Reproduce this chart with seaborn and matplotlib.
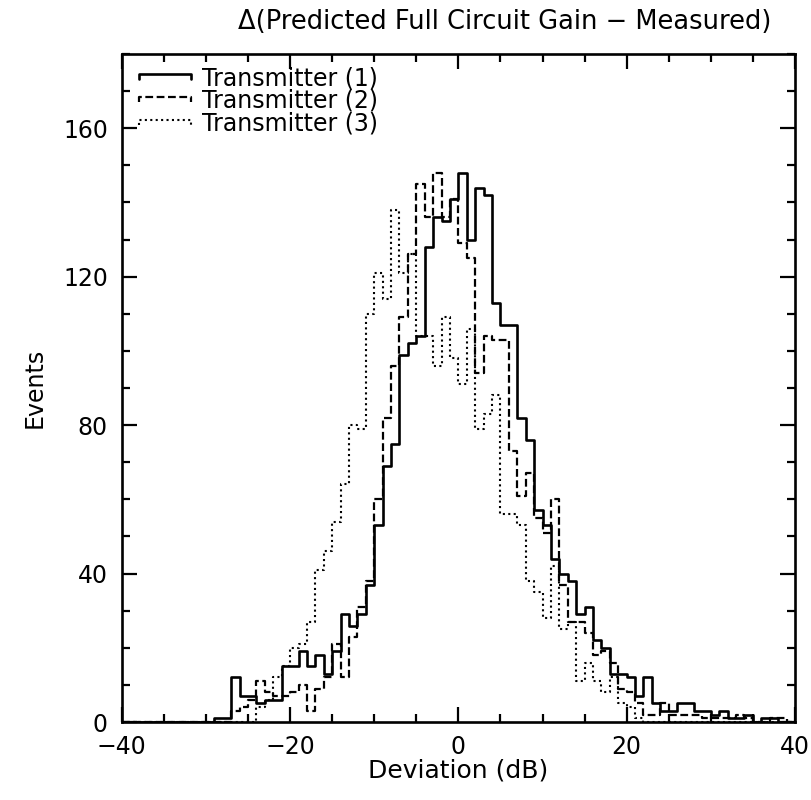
import numpy as np
import pandas as pd
import matplotlib
matplotlib.use("Agg")
import matplotlib.pyplot as plt
import seaborn as sns
from matplotlib.ticker import MultipleLocator
from matplotlib.lines import Line2D
from matplotlib.legend_handler import HandlerBase

# Bin lower edges (1 dB bins)
edges = list(range(-30, 40))

# Events per bin
tx1 = [0, 1, 1, 12, 7, 7, 5, 6, 6, 15, 15, 19, 15, 18, 13, 19, 29, 26, 29, 37,
       53, 69, 75, 99, 102, 104, 128, 136, 135, 141, 148, 130, 144, 142, 113, 107, 107, 82, 76, 57,
       53, 44, 40, 38, 29, 31, 22, 20, 13, 13, 12, 7, 12, 5, 3, 3, 5, 5, 3, 3,
       2, 3, 1, 1, 2, 0, 1, 1, 0, 0]
tx2 = [0, 0, 0, 3, 4, 6, 11, 8, 7, 7, 8, 10, 3, 9, 12, 21, 12, 23, 31, 38,
       60, 82, 96, 109, 126, 145, 136, 148, 136, 141, 129, 125, 94, 104, 103, 103, 73, 61, 67, 55,
       51, 60, 37, 27, 27, 24, 18, 19, 16, 9, 8, 5, 2, 2, 5, 2, 2, 2, 2, 1,
       1, 1, 1, 2, 1, 0, 0, 1, 1, 0]
tx3 = [0, 0, 0, 0, 0, 0, 4, 6, 12, 15, 20, 21, 27, 41, 46, 54, 64, 80, 79, 110,
       121, 114, 138, 121, 126, 104, 104, 96, 109, 98, 91, 106, 79, 83, 88, 56, 56, 53, 38, 35,
       28, 42, 25, 27, 11, 16, 11, 8, 12, 5, 4, 1, 0, 0, 0, 0, 0, 0, 0, 0,
       0, 0, 0, 0, 0, 0, 0, 0, 0, 0]
labels = ["Transmitter (1)", "Transmitter (2)", "Transmitter (3)"]

centers = np.array(edges) + 0.5
df = pd.concat([
    pd.DataFrame({"dev": centers, "n": tx1, "tx": labels[0]}),
    pd.DataFrame({"dev": centers, "n": tx2, "tx": labels[1]}),
    pd.DataFrame({"dev": centers, "n": tx3, "tx": labels[2]}),
])

sns.set_style("ticks")
plt.rcParams['font.family'] = ['DejaVu Sans']
for k in ["text.color", "axes.labelcolor", "xtick.color", "ytick.color", "axes.edgecolor"]:
    plt.rcParams[k] = "black"

styles = {labels[0]: "-", labels[1]: (0, (3.5, 1.6)), labels[2]: (0, (1, 1.6))}
widths = {labels[0]: 1.9, labels[1]: 1.6, labels[2]: 1.5}


class StepHandler(HandlerBase):
    # legend key drawn like a little histogram step (bracket)
    def create_artists(self, legend, orig_handle, xdescent, ydescent,
                       width, height, fontsize, trans):
        lab = orig_handle.get_label()
        x0, x1 = -xdescent, -xdescent + width
        ym = (height - ydescent) / 2.0 + 2
        drop = 0.3 * height
        ln = Line2D([x0, x0, x1, x1], [ym - drop, ym, ym, ym - drop],
                    color="black", lw=widths[lab], linestyle=styles[lab],
                    transform=trans)
        return [ln]


fig = plt.figure(figsize=(8.12, 8.0), dpi=100)
ax = fig.add_axes([0.150, 0.0975, 0.829, 0.835])

handles = []
for lab in labels:
    sub = df[df["tx"] == lab]
    sns.histplot(data=sub, x="dev", weights="n", binwidth=1, binrange=(-40, 40),
                 element="step", fill=False, color="black", linewidth=widths[lab],
                 linestyle=styles[lab], ax=ax)
    handles.append(Line2D([], [], color="black", label=lab))

ax.set_xlim(-40, 40)
ax.set_ylim(0, 180)
ax.xaxis.set_major_locator(MultipleLocator(20))
ax.xaxis.set_minor_locator(MultipleLocator(5))
ax.yaxis.set_major_locator(MultipleLocator(40))
ax.yaxis.set_minor_locator(MultipleLocator(10))
ax.tick_params(which="both", direction="in", top=True, right=True, width=1.6)
ax.tick_params(which="major", length=11, labelsize=17)
ax.tick_params(axis="x", which="major", pad=9)
ax.tick_params(axis="y", which="major", pad=10)
ax.tick_params(which="minor", length=6)
for s in ax.spines.values():
    s.set_linewidth(1.9)

ax.set_xlabel("Deviation (dB)", fontsize=18, labelpad=0)
ax.set_ylabel("Events", fontsize=17, labelpad=12)
fig.text(505 / 812, 1 - 22 / 800, "Δ(Predicted Full Circuit Gain − Measured)",
         fontsize=18.5, ha="center", va="center")

ax.legend(handles, labels, handler_map={Line2D: StepHandler()},
          loc="upper left", bbox_to_anchor=(0.026, 0.982), frameon=False,
          fontsize=17, handlelength=2.2, handletextpad=0.45, labelspacing=-0.05,
          borderaxespad=0, borderpad=0)

fig.savefig("out.png", dpi=100)
